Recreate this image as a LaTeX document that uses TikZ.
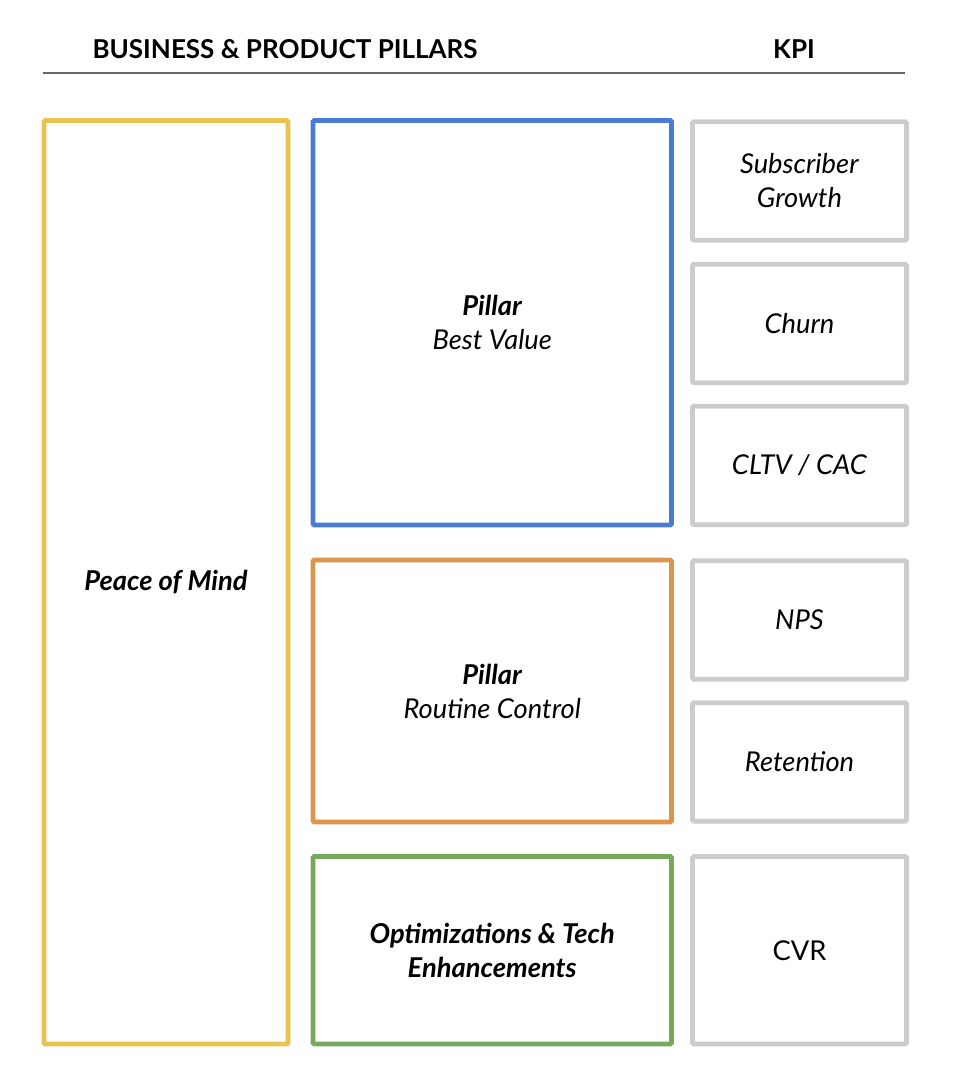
\documentclass[tikz,border=0pt]{standalone}
\usepackage{fontspec}
\setmainfont{Lato}
\usepackage{xcolor}
\usetikzlibrary{positioning}
\definecolor{pGold}{HTML}{EAC24F}
\definecolor{pBlue}{HTML}{4A7BD8}
\definecolor{pOrange}{HTML}{DC954B}
\definecolor{pGreen}{HTML}{77A85B}
\definecolor{pGrey}{HTML}{CCCCCC}
\definecolor{pRule}{HTML}{666666}
\tikzset{
  pbox/.style={draw=#1, line width=3.6pt, rounded corners=1pt, align=center,
    inner sep=0pt, font=\fontsize{20.5}{25.5}\selectfont},
  kbox/.style={pbox=pGrey, minimum width=160.5pt, minimum height=89pt},
  head/.style={anchor=base, font=\fontsize{19.5}{25.5}\selectfont\bfseries}
}

\begin{document}
\begin{tikzpicture}[x=0.75pt, y=-0.75pt]
  \useasboundingbox (0,0) rectangle (958,1070);
  % header
  \node[head] (pillarshead) at (285,59) {BUSINESS \& PRODUCT PILLARS};
  \node[head] (kpihead) at (794,59) {KPI};
  \draw[pRule, line width=1.9pt] (43,73) -- (905,73);
  % pillars
  \node[pbox=pGold, minimum width=183pt, minimum height=692.6pt] (mind) at (166,582.25)
    {\textbf{\textit{Peace of Mind}}};
  \node[pbox=pBlue, minimum width=268.9pt, minimum height=303.4pt] (value) at (492.25,322.75)
    {\textbf{\textit{Pillar}}\\\textit{Best Value}};
  \node[pbox=pOrange, minimum width=268.9pt, minimum height=196.5pt] (routine) at (492.25,691)
    {\textbf{\textit{Pillar}}\\\textit{Routine Control}};
  \node[pbox=pGreen, minimum width=268.9pt, minimum height=140.6pt] (tech) at (492.25,950.25)
    {\textbf{\textit{Optimizations \& Tech}}\\\textbf{\textit{Enhancements}}};
  % kpis
  \node[kbox] (subs) at (799.5,181) {\textit{Subscriber}\\\textit{Growth}};
  \node[kbox] (churn) at (799.5,323.5) {\textit{Churn}};
  \node[kbox] (cltv) at (799.5,465.5) {\textit{CLTV / CAC}};
  \node[kbox] (nps) at (799.5,620) {\textit{NPS}};
  \node[kbox] (retention) at (799.5,762) {\textit{Retention}};
  \node[kbox, minimum height=140.6pt] (cvr) at (799.5,950.25) {CVR};
\end{tikzpicture}
\end{document}
